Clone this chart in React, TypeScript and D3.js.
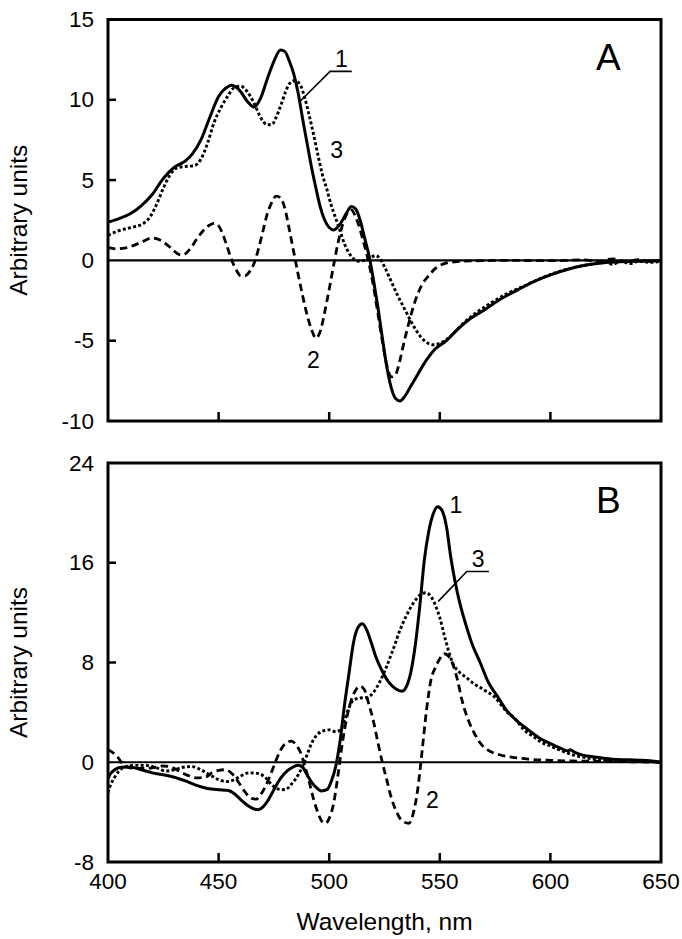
import React from 'react';
import * as d3 from 'd3';

// ---------- tick values ----------
const X_TICKS = [400, 450, 500, 550, 600, 650];
const A_Y_TICKS = [-10, -5, 0, 5, 10, 15];
const B_Y_TICKS = [-8, 0, 8, 16, 24];

// ---------- Panel A, curve 1 (solid) ----------
const A1_WL = [400, 405, 410, 415, 420, 425, 430, 435, 438, 442, 446, 450, 454, 456, 460, 463, 466, 469, 472, 475, 478, 480, 482, 484, 486, 488, 490, 492, 494, 496, 498, 500, 502, 504, 506, 508, 510, 512, 514, 516, 518, 520, 522, 524, 526, 528, 530, 532, 534, 537, 540, 544, 548, 553, 558, 564, 570, 577, 585, 592, 600, 608, 615, 622, 630, 640, 650];
const A1_V = [2.38, 2.6, 2.9, 3.4, 4.1, 5.1, 5.8, 6.2, 6.6, 7.5, 8.9, 10.2, 10.8, 10.9, 10.5, 9.9, 9.55, 10.1, 11.3, 12.4, 13.1, 13.0, 12.4, 11.6, 10.4, 8.8, 7.3, 5.8, 4.5, 3.3, 2.5, 2.05, 1.9, 2.1, 2.5, 3.0, 3.35, 3.2, 2.5, 1.4, 0.3, -1.2, -2.9, -4.8, -6.6, -7.9, -8.6, -8.75, -8.5, -7.8, -7.1, -6.2, -5.5, -5.0, -4.3, -3.6, -3.1, -2.45, -1.85, -1.35, -0.9, -0.55, -0.32, -0.18, -0.1, -0.05, -0.02];

// ---------- Panel A, curve 2 (dashed) ----------
const A2_WL = [400, 404, 408, 412, 416, 420, 423, 426, 429, 432, 434, 437, 440, 443, 446, 448, 450, 452, 454, 456, 458, 460, 462, 464, 466, 468, 470, 472, 474, 476, 478, 480, 482, 484, 486, 488, 490, 492, 494, 496, 498, 500, 502, 504, 506, 508, 510, 512, 514, 516, 518, 520, 522, 524, 526, 528, 530, 532, 534, 536, 538, 540, 542, 545, 548, 552, 558, 565, 580, 600, 615, 622, 628, 634, 640, 645, 650];
const A2_V = [0.8, 0.72, 0.78, 0.95, 1.2, 1.4, 1.3, 1.05, 0.7, 0.38, 0.35, 0.7, 1.3, 1.85, 2.2, 2.3, 2.15, 1.6, 0.8, 0.0, -0.6, -0.95, -0.95, -0.7, -0.2, 0.7, 1.8, 2.9, 3.6, 4.0, 3.9, 3.2, 1.9, 0.5, -0.9, -2.2, -3.4, -4.3, -4.85, -4.4, -3.2, -1.8, -0.3, 1.1, 2.2, 2.9, 3.15, 2.7, 1.9, 0.9, -0.2, -1.6, -3.3, -5.0, -6.5, -7.25, -7.1, -6.2, -5.0, -3.9, -2.9, -2.1, -1.5, -0.95, -0.5, -0.2, -0.07, -0.03, 0.0, -0.02, 0.03, -0.05, 0.1, -0.08, 0.05, -0.06, 0.0];

// ---------- Panel A, curve 3 (dotted) ----------
const A3_WL = [400, 404, 408, 412, 416, 419, 422, 425, 428, 431, 435, 439, 442, 445, 448, 451, 454, 457, 460, 463, 466, 469, 472, 474, 476, 478, 480, 482, 484.5, 487, 489, 491, 493, 495, 497, 499, 501, 503, 505, 507, 509, 511, 513, 516, 519, 521, 523, 525, 528, 531, 534, 537, 540, 543, 547, 551, 555, 560, 566, 572, 580, 588, 596, 605, 612, 620, 625, 628, 632, 636, 640, 645, 650];
const A3_V = [1.56, 1.8, 1.97, 2.1, 2.3, 2.7, 3.5, 4.5, 5.3, 5.75, 5.85, 5.9, 6.3, 7.3, 8.6, 9.5, 10.2, 10.75, 10.85, 10.5, 9.8, 8.9, 8.45, 8.45, 8.9, 9.6, 10.4, 11.0, 11.2, 10.9, 10.1, 9.0, 7.8, 6.5, 5.3, 4.4, 3.4, 2.6, 1.8, 1.0, 0.45, 0.1, -0.05, 0.0, 0.2, 0.3, 0.1, -0.4, -1.3, -2.2, -3.0, -3.8, -4.5, -5.0, -5.25, -5.1, -4.7, -4.0, -3.3, -2.75, -2.1, -1.6, -1.1, -0.65, -0.4, -0.2, -0.05, -0.25, -0.05, -0.2, -0.05, -0.12, -0.05];

// ---------- Panel B, curve 1 (solid) ----------
const B1_WL = [400, 401, 403, 406, 410, 415, 420, 425, 430, 435, 440, 445, 450, 454, 457, 460, 463, 466, 468, 470, 472, 475, 478, 481, 484, 486, 488, 490, 492, 494, 496.5, 499, 501, 503, 505, 507, 509, 511, 513, 515, 517, 519, 521, 524, 527, 530, 533, 535, 537, 539, 541, 543, 545, 547, 549, 551, 553, 555, 557, 559, 562, 565, 568, 572, 576, 580, 585, 590, 595, 600, 605, 608, 609, 611, 615, 620, 625, 630, 635, 640, 645, 650];
const B1_V = [-1.3, -0.95, -0.6, -0.4, -0.38, -0.6, -0.85, -1.0, -1.2, -1.5, -1.85, -2.1, -2.2, -2.25, -2.5, -3.0, -3.45, -3.75, -3.8, -3.6, -3.15, -2.2, -1.3, -0.7, -0.35, -0.25, -0.4, -1.0, -1.6, -2.0, -2.3, -2.2, -1.5, -0.3, 1.8, 4.7, 7.2, 9.6, 10.8, 11.1, 10.6, 9.6, 8.5, 7.3, 6.4, 5.9, 5.7, 6.1, 7.3, 9.5, 12.6, 16.2, 18.5, 19.9, 20.5, 20.2, 18.9, 16.4, 14.4, 12.8, 10.9, 9.3, 8.1, 6.4, 5.3, 4.2, 3.3, 2.6, 1.95, 1.5, 1.1, 0.9, 1.0, 0.8, 0.55, 0.42, 0.3, 0.22, 0.2, 0.17, 0.12, 0.0];

// ---------- Panel B, curve 2 (dashed) ----------
const B2_WL = [400, 402, 404, 407, 410, 415, 420, 425, 428, 432, 436, 440, 444, 447, 450, 453, 456, 459, 462, 465, 467, 469, 471, 473, 475, 477, 479, 481, 483, 485, 487, 489, 491, 493, 495, 497, 498.5, 500, 502, 504, 506, 508, 510, 512, 514, 516, 518, 520, 522, 524, 526, 528, 530, 532, 534, 536, 538, 540, 542, 544, 546, 548, 550, 552, 554, 556, 558, 560, 562, 564, 566, 568, 572, 577, 583, 590, 600, 610, 620, 630, 640, 650];
const B2_V = [1.0, 0.8, 0.5, -0.2, -0.45, -0.5, -0.45, -0.3, -0.35, -0.7, -1.05, -1.25, -1.2, -0.85, -0.65, -0.6, -0.9, -1.6, -2.4, -2.9, -2.95, -2.6, -2.0, -1.2, -0.3, 0.6, 1.25, 1.6, 1.7, 1.4, 0.8, -0.3, -1.6, -3.0, -4.1, -4.8, -4.9, -4.5, -3.3, -1.0, 1.6, 3.6, 5.0, 5.8, 6.1, 5.8, 4.6, 3.3, 1.6, 0.0, -1.4, -2.8, -3.8, -4.5, -4.8, -4.9, -4.1, -2.2, 0.9, 4.2, 6.6, 7.6, 8.3, 8.7, 8.5, 7.8, 6.6, 5.0, 3.8, 2.9, 2.2, 1.6, 0.95, 0.6, 0.4, 0.25, 0.15, 0.1, 0.08, 0.05, 0.03, 0.0];

// ---------- Panel B, curve 3 (dotted) ----------
const B3_WL = [400, 401, 403, 405, 408, 412, 418, 422, 426, 430, 434, 438, 442, 446, 450, 454, 457, 460, 464, 468, 471, 474, 477, 480, 483, 486, 488, 490, 492, 494, 497, 500, 503, 505, 507, 509, 511, 514, 517, 520, 523, 526, 529, 532, 535, 538, 541, 543.5, 546, 548, 550, 552, 554, 556, 559, 562, 565, 570, 575, 580, 584, 588, 592, 596, 600, 604, 610, 615, 620, 630, 640, 650];
const B3_V = [-2.45, -1.9, -1.2, -0.7, -0.35, -0.25, -0.27, -0.45, -0.7, -0.6, -0.4, -0.35, -0.6, -1.0, -1.4, -1.55, -1.4, -1.1, -0.85, -0.9, -1.2, -1.8, -2.15, -2.2, -1.75, -1.0, -0.3, 0.6, 1.5, 2.1, 2.5, 2.6, 2.45, 2.6, 3.4, 4.4, 5.0, 5.15, 5.2, 5.6, 6.5, 7.7, 9.1, 10.6, 11.8, 12.75, 13.4, 13.6, 13.3, 12.6, 11.6, 10.2, 8.9, 7.9, 7.2, 6.8, 6.35, 5.8, 5.2, 4.1, 3.5, 2.6, 2.1, 1.6, 1.3, 1.0, 0.6, 0.4, 0.25, 0.15, 0.08, 0.0];

// ---------- curve labels (data coordinates) ----------
const A_LABELS = [
  { text: '1', wl: 505.5, v: 12.55 },
  { text: '3', wl: 503.4, v: 6.85 },
  { text: '2', wl: 492.8, v: -6.2 },
];
const A_LEADER = [[510.2, 11.77], [500.4, 11.77], [486.5, 9.86]];
const B_LABELS = [
  { text: '1', wl: 557.3, v: 20.6 },
  { text: '3', wl: 567.3, v: 16.3 },
  { text: '2', wl: 546.7, v: -3.0 },
];
const B_LEADER = [[572.2, 15.3], [562.2, 15.3], [549.3, 12.9]];

const zip = (a: number[], b: number[]) => a.map((w, i) => [w, b[i]] as [number, number]);

const LEFT = 108;
const RIGHT = 661;
const FONT = 'Liberation Sans, Arial, Helvetica, sans-serif';

const STYLES = {
  solid: { width: 3, dash: undefined as string | undefined },
  dashed: { width: 2.8, dash: '7.5,4.5' },
  dotted: { width: 2.9, dash: '3,2.3' },
};

type Series = { data: [number, number][]; style: keyof typeof STYLES };

function Panel(props: {
  top: number; bottom: number; domain: [number, number]; yTicks: number[];
  series: Series[]; labels: { text: string; wl: number; v: number }[];
  leader: number[][]; letter: string; showXLabels: boolean;
}) {
  const { top, bottom, domain, yTicks, series, labels, leader, letter, showXLabels } = props;
  const x = d3.scaleLinear().domain([400, 650]).range([LEFT, RIGHT]);
  const y = d3.scaleLinear().domain(domain).range([bottom, top]);
  const line = d3.line<[number, number]>().x(d => x(d[0])).y(d => y(d[1])).curve(d3.curveMonotoneX);
  const leaderLine = d3.line<number[]>().x(d => x(d[0])).y(d => y(d[1]));
  const clipId = 'clip' + letter;
  return (
    <g>
      <defs>
        <clipPath id={clipId}>
          <rect x={LEFT} y={top} width={RIGHT - LEFT} height={bottom - top} />
        </clipPath>
      </defs>
      <line x1={LEFT} x2={RIGHT} y1={y(0)} y2={y(0)} stroke="#000" strokeWidth={2.2} />
      <g clipPath={`url(#${clipId})`}>
        {series.map((s, i) => (
          <path key={i} d={line(s.data) || ''} fill="none" stroke="#000"
            strokeWidth={STYLES[s.style].width}
            strokeDasharray={STYLES[s.style].dash}
            strokeLinejoin="round" />
        ))}
      </g>
      <path d={leaderLine(leader) || ''} fill="none" stroke="#000" strokeWidth={1.6} />
      {labels.map((l, i) => (
        <text key={i} x={x(l.wl)} y={y(l.v)} textAnchor="middle" dominantBaseline="central"
          fontFamily={FONT} fontSize={23} fill="#000">{l.text}</text>
      ))}
      <text x={596} y={top + 50} fontFamily={FONT} fontSize={37} fill="#000">{letter}</text>
      {yTicks.map(t => (
        <g key={t}>
          {t !== domain[0] && t !== domain[1] && t !== 0 && (
            <line x1={LEFT} x2={LEFT + 8} y1={y(t)} y2={y(t)} stroke="#000" strokeWidth={2.5} />
          )}
          <text x={94} y={y(t)} textAnchor="end" dominantBaseline="central"
            fontFamily={FONT} fontSize={22.5} fill="#000">{t}</text>
        </g>
      ))}
      {X_TICKS.map(t => (
        <g key={t}>
          {t !== 400 && t !== 650 && (
            <line x1={x(t)} x2={x(t)} y1={bottom} y2={bottom - 9} stroke="#000" strokeWidth={2.5} />
          )}
          {showXLabels && (
            <text x={x(t)} y={bottom + 27} textAnchor="middle"
              fontFamily={FONT} fontSize={22.5} fill="#000">{t}</text>
          )}
        </g>
      ))}
      <rect x={LEFT} y={top} width={RIGHT - LEFT} height={bottom - top} fill="none" stroke="#000" strokeWidth={3} />
      <text transform={`translate(27,${(top + bottom) / 2}) rotate(-90)`} textAnchor="middle"
        fontFamily={FONT} fontSize={24.5} fill="#000">Arbitrary units</text>
    </g>
  );
}

export default function App() {
  return (
    <svg width={682} height={939} style={{ position: 'absolute', left: 0, top: 0, background: '#fff' }}>
      <rect x={0} y={0} width={682} height={939} fill="#fff" />
      <Panel top={19.5} bottom={421} domain={[-10, 15]} yTicks={A_Y_TICKS}
        series={[
          { data: zip(A3_WL, A3_V), style: 'dotted' },
          { data: zip(A2_WL, A2_V), style: 'dashed' },
          { data: zip(A1_WL, A1_V), style: 'solid' },
        ]}
        labels={A_LABELS} leader={A_LEADER} letter="A" showXLabels={false} />
      <Panel top={463} bottom={862} domain={[-8, 24]} yTicks={B_Y_TICKS}
        series={[
          { data: zip(B3_WL, B3_V), style: 'dotted' },
          { data: zip(B2_WL, B2_V), style: 'dashed' },
          { data: zip(B1_WL, B1_V), style: 'solid' },
        ]}
        labels={B_LABELS} leader={B_LEADER} letter="B" showXLabels={true} />
      <text x={(LEFT + RIGHT) / 2} y={930} textAnchor="middle" fontFamily={FONT} fontSize={24.5} fill="#000">
        Wavelength, nm
      </text>
    </svg>
  );
}
